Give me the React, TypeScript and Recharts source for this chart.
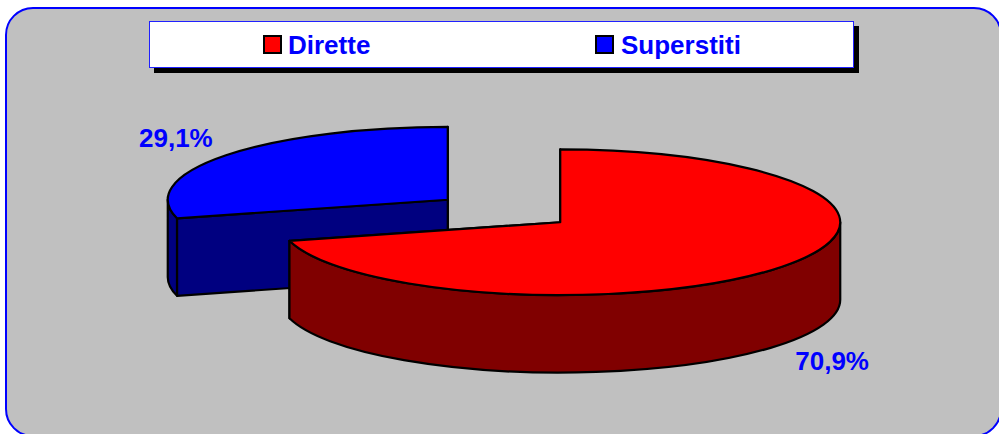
import React from 'react';
import { PieChart, Pie, Legend } from 'recharts';

const categories = ['Superstiti', 'Dirette'];
const values = [29.1, 70.9];
const topColors = ['#0000FF', '#FF0000'];
const sideColors = ['#000080', '#800000'];
const labels = ['29,1%', '70,9%'];

const data = categories.map((name, i) => ({
    name,
    value: values[i],
    fill: topColors[i],
    side: sideColors[i],
    text: labels[i],
}));

const WIDTH = 999;
const HEIGHT = 434;
const SQUASH = 0.26;
const DEPTH = 77.5;
const EXPLODE = 71;
const FONT = '"Liberation Sans", Arial, sans-serif';
const BLUE = '#0000FF';
const RAD = Math.PI / 180;

// the slice is drawn as a tilted disc: the library gives the angles, the tilt is done here
const Slice3D = (props: any) => {
    const { cx, cy, outerRadius, startAngle, endAngle, midAngle, fill, payload } = props;
    const rx = outerRadius;
    const ry = outerRadius * SQUASH;
    const x0 = cx + EXPLODE * Math.cos(midAngle * RAD);
    const y0 = cy - EXPLODE * SQUASH * Math.sin(midAngle * RAD);
    const pt = (a: number, dy = 0) =>
        `${x0 + rx * Math.cos(a * RAD)} ${y0 - ry * Math.sin(a * RAD) + dy}`;
    const arc = (large: number, sweep: number) => `A ${rx} ${ry} 0 ${large} ${sweep}`;

    const face = (a: number) =>
        `M ${x0} ${y0} L ${pt(a)} L ${pt(a, DEPTH)} L ${x0} ${y0 + DEPTH} Z`;

    // only the lower half of the rim looks at the viewer
    const wallFrom = Math.max(startAngle, 180);
    const wallTo = Math.min(endAngle, 360);
    const large = endAngle - startAngle > 180 ? 1 : 0;
    const wallLarge = wallTo - wallFrom > 180 ? 1 : 0;

    const lineProps = { stroke: '#000', strokeWidth: 2.2, strokeLinejoin: 'round' as const };

    return (
        <g>
            <path d={face(startAngle)} fill={payload.side} {...lineProps} />
            <path d={face(endAngle)} fill={payload.side} {...lineProps} />
            {wallFrom < wallTo && (
                <path
                    d={`M ${pt(wallFrom)} ${arc(wallLarge, 0)} ${pt(wallTo)} L ${pt(wallTo, DEPTH)} ${arc(wallLarge, 1)} ${pt(wallFrom, DEPTH)} Z`}
                    fill={payload.side}
                    {...lineProps}
                />
            )}
            <path
                d={`M ${x0} ${y0} L ${pt(startAngle)} ${arc(large, 0)} ${pt(endAngle)} Z`}
                fill={fill}
                {...lineProps}
            />
        </g>
    );
};

const SliceLabel = (props: any) => {
    const { cx, cy, outerRadius, midAngle, payload } = props;
    const cos = Math.cos(midAngle * RAD);
    const sin = Math.sin(midAngle * RAD);
    const x = cx + EXPLODE * cos + outerRadius * 1.226 * cos;
    const lower = sin < 0 ? DEPTH : 0;
    const y = cy - EXPLODE * SQUASH * sin - outerRadius * SQUASH * 1.383 * sin + lower;
    return (
        <text
            x={x}
            y={y}
            textAnchor="middle"
            dominantBaseline="central"
            fill={BLUE}
            fontFamily={FONT}
            fontSize={26}
            fontWeight="bold"
        >
            {payload.text}
        </text>
    );
};

const legendOffsets: Record<string, number> = { Dirette: 113, Superstiti: 445 };

const LegendBox = () => (
    <div
        style={{
            position: 'relative',
            width: 703,
            height: 45,
            background: '#fff',
            border: '1px solid #2020FF',
            boxShadow: '5px 5px 0 #000',
            fontFamily: FONT,
            fontSize: 26,
            fontWeight: 'bold',
            color: BLUE,
        }}
    >
        {[...data].reverse().map(d => (
            <div
                key={d.name}
                style={{ position: 'absolute', left: legendOffsets[d.name], top: 0, height: 45, lineHeight: '47px', whiteSpace: 'nowrap' }}
            >
                <span
                    style={{
                        position: 'absolute',
                        left: 0,
                        top: 13,
                        width: 15,
                        height: 15,
                        background: d.fill,
                        border: '2px solid #000',
                    }}
                />
                <span style={{ marginLeft: d.name === 'Superstiti' ? 26 : 25 }}>{d.name}</span>
            </div>
        ))}
    </div>
);

export default function App() {
    return (
        <div style={{ position: 'absolute', left: 0, top: 0, width: WIDTH, height: HEIGHT, overflow: 'hidden', background: '#fff' }}>
            <div
                style={{
                    position: 'absolute',
                    left: 5,
                    top: 7,
                    width: 997,
                    height: 430,
                    boxSizing: 'border-box',
                    background: '#C0C0C0',
                    border: `2.5px solid ${BLUE}`,
                    borderRadius: 28,
                }}
            />
            <div style={{ position: 'absolute', left: 0, top: 0 }}>
                <PieChart width={WIDTH} height={HEIGHT} margin={{ top: 0, right: 0, bottom: 0, left: 0 }}>
                    <Pie
                        data={data}
                        dataKey="value"
                        nameKey="name"
                        cx={504}
                        cy={211}
                        outerRadius={280}
                        startAngle={90}
                        endAngle={450}
                        shape={Slice3D}
                        label={SliceLabel}
                        labelLine={false}
                        isAnimationActive={false}
                    />
                    <Legend
                        verticalAlign="bottom"
                        content={LegendBox}
                        wrapperStyle={{ left: 149, top: 21, bottom: 'auto', width: 705, height: 47 }}
                    />
                </PieChart>
            </div>
        </div>
    );
}
